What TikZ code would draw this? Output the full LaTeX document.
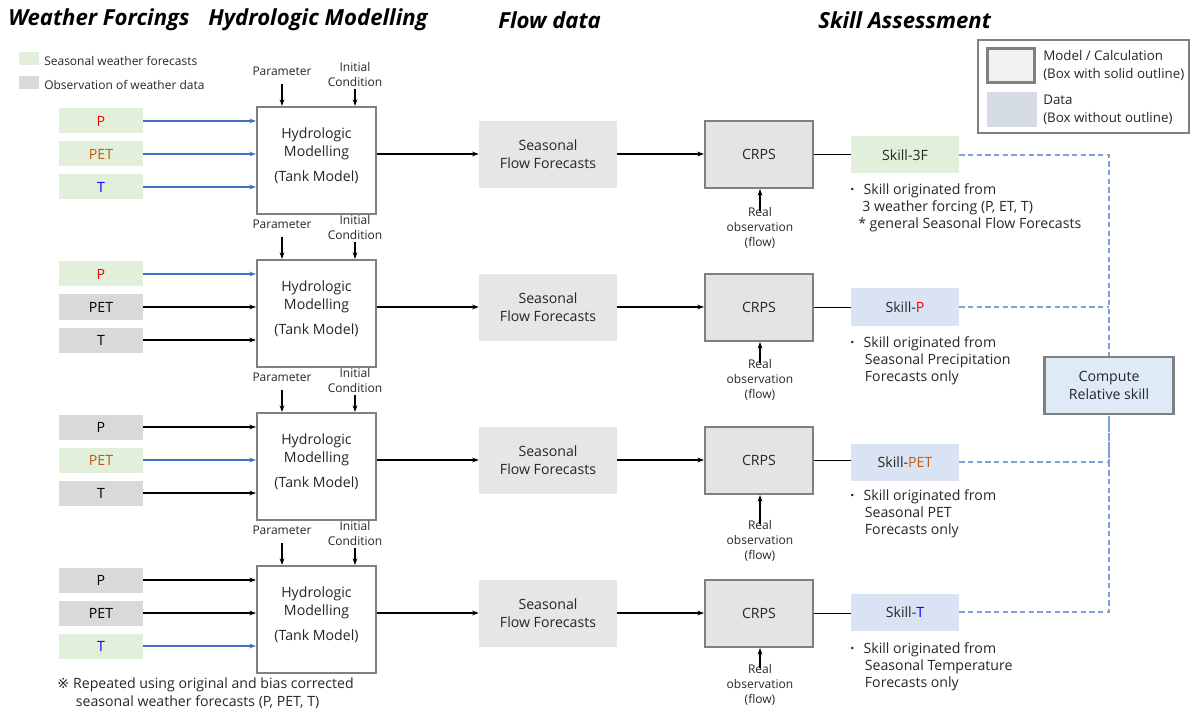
\documentclass[tikz,border=0pt]{standalone}
\usepackage{fontspec}
\setmainfont{Open Sans}
\newfontfamily\refmarkfont{DejaVu Sans}
\usetikzlibrary{arrows.meta}
\definecolor{fgreen}{HTML}{E2EFDA}
\definecolor{fgray}{HTML}{D9D9D9}
\definecolor{flowgray}{HTML}{E7E6E6}
\definecolor{crpsgray}{HTML}{E4E4E4}
\definecolor{outl}{HTML}{808080}
\definecolor{skillblue}{HTML}{DAE3F3}
\definecolor{compblue}{HTML}{DEEBF7}
\definecolor{datablue}{HTML}{D6DCE5}
\definecolor{modelgray}{HTML}{F2F2F2}
\definecolor{arrblue}{HTML}{4472C4}
\definecolor{dashblue}{HTML}{7F9FDB}
\definecolor{pred}{HTML}{FF0000}
\definecolor{petbrown}{HTML}{C55A11}
\definecolor{tblue}{HTML}{0000FF}
\definecolor{txt}{HTML}{262626}
\begin{document}
\begin{tikzpicture}[x=0.75pt,y=-0.75pt,
  title/.style={font=\fontsize{16.6}{19}\selectfont\bfseries\itshape, anchor=west, inner sep=0},
  body/.style={font=\fontsize{10.6}{13.5}\selectfont, text=txt},
  small/.style={font=\fontsize{9}{11.25}\selectfont, align=center, inner sep=0, text=txt},
  inbox/.style={minimum width=84*0.75pt, minimum height=25*0.75pt, inner sep=0, font=\fontsize{10.6}{12}\selectfont},
  gP/.style={inbox, fill=fgreen, text=pred},
  gE/.style={inbox, fill=fgreen, text=petbrown},
  gT/.style={inbox, fill=fgreen, text=tblue},
  oX/.style={inbox, fill=fgray, text=black},
  arr/.style={-{Stealth[length=5pt,width=3.6pt]}, line width=0.8pt},
  a-gP/.style={arr, draw=arrblue},
  a-gE/.style={arr, draw=arrblue},
  a-gT/.style={arr, draw=arrblue},
  a-oX/.style={arr, draw=black},
  hbox/.style={draw=outl, line width=1.6pt, fill=white, minimum width=119*0.75pt, minimum height=107*0.75pt, inner sep=0},
  htext/.style={body, align=center, inner sep=0},
  flowbox/.style={body, fill=flowgray, align=center, minimum width=138*0.75pt, minimum height=67*0.75pt, inner sep=0},
  crpsbox/.style={body, fill=crpsgray, draw=outl, line width=1.6pt, minimum width=108*0.75pt, minimum height=67*0.75pt, inner sep=0},
  skillbox/.style={body, minimum width=108*0.75pt, minimum height=37*0.75pt, inner sep=0},
  bullettext/.style={body, align=left, anchor=north west, inner sep=0, font=\fontsize{10.6}{13}\selectfont},
  dashline/.style={draw=dashblue, dash pattern=on 4pt off 2.5pt, line width=0.8pt},
  plainline/.style={line width=0.8pt}
]
\useasboundingbox (0,0) rectangle (1192,709);

% titles
\node[title] (t1) at (8,20) {Weather Forcings};
\node[title] (t2) at (208,20) {Hydrologic Modelling};
\node[title] (t3) at (498,20) {Flow data};
\node[title] (t4) at (818,20) {Skill Assessment};

% left legend
\node[fill=fgreen, minimum width=20*0.75pt, minimum height=13*0.75pt, inner sep=0] (lg1) at (28.5,58.5) {};
\node[fill=fgray, minimum width=20*0.75pt, minimum height=13*0.75pt, inner sep=0] (lg2) at (28.5,82.5) {};
\node[anchor=west, inner sep=0, font=\fontsize{9}{11}\selectfont, text=txt] (lt1) at (44,61) {Seasonal weather forecasts};
\node[anchor=west, inner sep=0, font=\fontsize{9}{11}\selectfont, text=txt] (lt2) at (44,85) {Observation of weather data};

% right legend
\node[draw=outl, line width=0.9pt, minimum width=211*0.75pt, minimum height=93*0.75pt, inner sep=0] (rleg) at (1083.5,86.5) {};
\node[draw=outl, line width=1.6pt, fill=modelgray, minimum width=47*0.75pt, minimum height=34*0.75pt, inner sep=0] (rlm) at (1011,65.5) {};
\node[fill=datablue, minimum width=50*0.75pt, minimum height=35*0.75pt, inner sep=0] (rld) at (1012,109.5) {};
\node[body, anchor=west, align=left, inner sep=0, font=\fontsize{10}{13}\selectfont] (rlmt) at (1043,65.5) {Model / Calculation\\(Box with solid outline)};
\node[body, anchor=west, align=left, inner sep=0, font=\fontsize{10}{13.5}\selectfont] (rldt) at (1043,110) {Data\\(Box without outline)};

% rows
\foreach \r/\y/\sa/\sb/\sc/\ro in {1/154/gP/gE/gT/74, 2/307/gP/oX/oX/73, 3/460/oX/gE/oX/81, 4/613/oX/oX/gT/72}{
  \node[\sa] (p\r) at (101,\y-33) {P};
  \node[\sb] (e\r) at (101,\y) {PET};
  \node[\sc] (t\r) at (101,\y+33) {T};
  \node[hbox] (hydro\r) at (316.5,\y+6.5) {};
  \node[htext] (hlab\r) at (316.5,\y+1.5) {Hydrologic\\Modelling\\[5pt](Tank Model)};
  \draw[a-\sa] (p\r.east) -- (p\r.east -| hydro\r.west);
  \draw[a-\sb] (e\r.east) -- (e\r.east -| hydro\r.west);
  \draw[a-\sc] (t\r.east) -- (t\r.east -| hydro\r.west);
  \node[small] (par\r) at (282,\y-83) {Parameter};
  \node[small] (ic\r) at (355,\y-79.5) {Initial\\Condition};
  \draw[arr] ([yshift=-6.5pt]par\r.south) -- (par\r.south |- hydro\r.north);
  \draw[arr] ([yshift=-1.5pt]ic\r.south) -- (ic\r.south |- hydro\r.north);
  \node[flowbox] (flow\r) at (548,\y+0.5) {Seasonal\\Flow Forecasts};
  \node[crpsbox] (crps\r) at (759,\y+0.5) {CRPS};
  \draw[arr] (hydro\r.east |- 0,\y) -- (flow\r.west |- 0,\y);
  \draw[arr] (flow\r.east |- 0,\y) -- (crps\r.west |- 0,\y);
  \node[small] (ro\r) at (760,\y+\ro) {Real\\observation\\(flow)};
  \draw[arr] ([yshift=-3pt]ro\r.north) -- (ro\r.north |- crps\r.south);
}

% skill boxes
\node[skillbox, fill=fgreen] (s1) at (905,155) {Skill-3F};
\node[skillbox, fill=skillblue] (s2) at (905,307) {Skill-\textcolor{pred}{P}};
\node[skillbox, fill=skillblue] (s3) at (905,462) {Skill-\textcolor{petbrown}{PET}};
\node[skillbox, fill=skillblue] (s4) at (905,612) {Skill-\textcolor{tblue}{T}};
\foreach \r in {1,2,3,4}{
  \draw[plainline] (crps\r.east) -- (crps\r.east -| s\r.west);
}

% bullet texts
\node[bullettext] (b1) at (850,183) {{\bfseries·}\hspace{7pt}Skill originated from\\\hspace{9pt}3 weather forcing (P, ET, T)\\\hspace{6pt}* general Seasonal Flow Forecasts};
\node[bullettext] (b2) at (850,336) {{\bfseries·}\hspace{7pt}Skill originated from\\\hspace{11pt}Seasonal Precipitation\\\hspace{11pt}Forecasts only};
\node[bullettext] (b3) at (850,489) {{\bfseries·}\hspace{7pt}Skill originated from\\\hspace{11pt}Seasonal PET\\\hspace{11pt}Forecasts only};
\node[bullettext] (b4) at (850,642) {{\bfseries·}\hspace{7pt}Skill originated from\\\hspace{11pt}Seasonal Temperature\\\hspace{11pt}Forecasts only};

% compute relative skill
\node[body, draw=outl, line width=1.6pt, fill=compblue, align=center, minimum width=129*0.75pt, minimum height=57*0.75pt, inner sep=0] (comp) at (1109,385.5) {Compute\\Relative skill};
\draw[dashline] (s1.east) -| (comp.north);
\draw[dashline] (s2.east) -- (s2.east -| comp.north);
\draw[dashline] (s3.east) -| (comp.south);
\draw[dashline] (s4.east) -| (comp.south);

% footnote
\node[body, anchor=north west, align=left, inner sep=0] (fn) at (57,677) {{\refmarkfont ※}\hspace{3pt}Repeated using original and bias corrected\\\hspace{14pt}seasonal weather forecasts (P, PET, T)};
\end{tikzpicture}
\end{document}
